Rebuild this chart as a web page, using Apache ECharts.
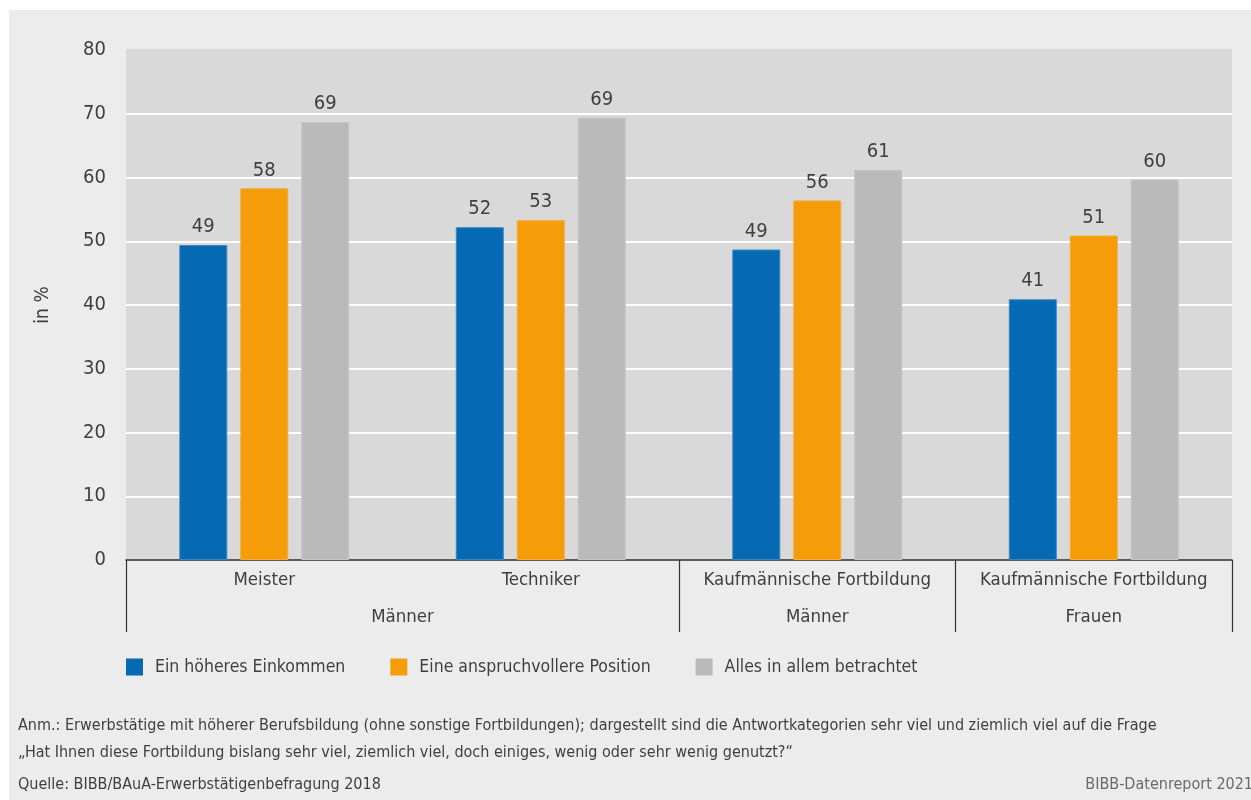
<!DOCTYPE html>
<html>
<head>
<meta charset="utf-8">
<script src="https://cdn.jsdelivr.net/npm/echarts@6/dist/echarts.min.js"></script>
<style>
html,body{margin:0;padding:0;background:#fff;}
#chart{width:1251px;height:800px;background:linear-gradient(#ececec,#ececec) no-repeat 9px 10px / 1242px 790px, #fff;}
</style>
</head>
<body>
<div id="chart"></div>
<script>
const categories = ['Meister', 'Techniker', 'Kaufmännische Fortbildung', 'Kaufmännische Fortbildung'];
const groupLabels = ['', '', 'Männer', '', '', 'Männer', '', 'Frauen', ''];
const groupTickIdx = [0, 4, 6, 8];
const seriesNames = ['Ein höheres Einkommen', 'Eine anspruchvollere Position', 'Alles in allem betrachtet'];
const einkommen = [49.4, 52.2, 48.7, 40.9];
const position = [58.3, 53.3, 56.4, 50.9];
const alles = [68.7, 69.4, 61.2, 59.7];
const yTicks = [0, 80, 10];
const noteLines = [
  'Anm.: Erwerbstätige mit höherer Berufsbildung (ohne sonstige Fortbildungen); dargestellt sind die Antwortkategorien sehr viel und ziemlich viel auf die Frage',
  '\u201EHat Ihnen diese Fortbildung bislang sehr viel, ziemlich viel, doch einiges, wenig oder sehr wenig genutzt?\u201C'
];
const sourceText = 'Quelle: BIBB/BAuA-Erwerbstätigenbefragung 2018';
const reportText = 'BIBB-Datenreport 2021';

const FONT = "'DejaVu Sans Condensed', 'Liberation Sans Narrow', sans-serif";
const TXT = '#3f3f3f';
const colors = ['#0569b3', '#f59c09', '#bababa'];
const borders = ['#3d86c3', '#f5ab3c', '#c6c6c6'];
const values = [einkommen, position, alles];

const chart = echarts.init(document.getElementById('chart'), null, {renderer: 'canvas'});
const option = {
  animation: false,
  textStyle: {fontFamily: FONT, color: TXT},
  grid: {left: 126, top: 50, right: 19, bottom: 240, show: true, backgroundColor: '#d9d9d9', borderWidth: 0, containLabel: false},
  legend: {
    left: 121, top: 653, itemWidth: 17, itemHeight: 17, itemGap: 45, icon: 'rect',
    itemStyle: {borderWidth: 0},
    textStyle: {fontFamily: FONT, fontSize: 17.5, color: TXT, padding: [0, 0, 0, 7]},
    data: seriesNames
  },
  xAxis: [
    {
      type: 'category', data: categories, gridIndex: 0,
      axisLine: {show: true, lineStyle: {color: '#262626', width: 1.5}},
      axisTick: {show: false},
      axisLabel: {fontFamily: FONT, fontSize: 18.5, color: TXT, margin: 11, interval: 0}
    },
    {
      type: 'category', data: groupLabels, gridIndex: 0, position: 'bottom', boundaryGap: false,
      axisLine: {show: false},
      axisTick: {show: true, length: 72, interval: (i) => groupTickIdx.includes(i), lineStyle: {color: '#333', width: 1.2}},
      axisLabel: {fontFamily: FONT, fontSize: 18.5, color: TXT, margin: 48, interval: 0}
    }
  ],
  yAxis: {
    type: 'value', min: yTicks[0], max: yTicks[1], interval: yTicks[2],
    name: 'in %', nameLocation: 'middle', nameRotate: 90, nameGap: 73,
    nameTextStyle: {fontFamily: FONT, fontSize: 19, color: TXT},
    axisLine: {show: false}, axisTick: {show: false},
    axisLabel: {fontFamily: FONT, fontSize: 20, color: TXT, margin: 20},
    splitLine: {show: true, lineStyle: {color: ['#fff','#fff','#fff','#fff','#fff','#fff','#fff','#fff','#d9d9d9'], width: 2}}
  },
  series: seriesNames.map((n, k) => ({
    name: n, type: 'bar', xAxisIndex: 0, data: values[k],
    barWidth: 48, barGap: '27%',
    itemStyle: {color: colors[k], borderColor: borders[k], borderWidth: 1},
    label: {show: true, position: 'top', distance: 8, fontFamily: FONT, fontSize: 20, color: TXT,
      formatter: (p) => Math.round(p.value)}
  })),
  graphic: [
    {type: 'text', left: 18, top: 718, style: {text: noteLines[0], fontFamily: FONT, fontSize: 16, fill: TXT}},
    {type: 'text', left: 18, top: 745, style: {text: noteLines[1], fontFamily: FONT, fontSize: 16, fill: TXT}},
    {type: 'text', left: 18, top: 777, style: {text: sourceText, fontFamily: FONT, fontSize: 16, fill: TXT}},
    {type: 'text', right: -2, top: 777, style: {text: reportText, fontFamily: FONT, fontSize: 16, fill: '#6a6a6a'}}
  ]
};
chart.setOption(option);
</script>
</body>
</html>
